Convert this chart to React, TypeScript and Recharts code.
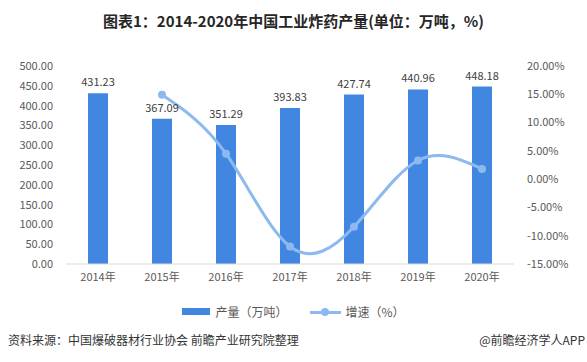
import React from "react";
import { ComposedChart, Bar, Line, XAxis, YAxis, LabelList } from "recharts";

const years = ["2014年", "2015年", "2016年", "2017年", "2018年", "2019年", "2020年"];
const output = [431.23, 367.09, 351.29, 393.83, 427.74, 440.96, 448.18];
const growth = [null, 14.9, 4.5, -11.9, -8.4, 3.3, 1.8];
const leftTicks = [0, 50, 100, 150, 200, 250, 300, 350, 400, 450, 500];
const rightTicks = [-15, -10, -5, 0, 5, 10, 15, 20];

const BAR = "#4187E1";
const LINE = "#8DB8F0";
const FONT = "'Microsoft YaHei','Noto Sans CJK SC',sans-serif";

const data = years.map((y, i) => ({ year: y, output: output[i], growth: growth[i] }));

const tick = { fontSize: 11, fill: "#595959", fontFamily: FONT };

export default function App() {
  return (
    <div style={{ position: "relative", width: 587, height: 362, background: "#fff", fontFamily: FONT }}>
      <style>{`body{margin:0}`}</style>
      <div
        style={{
          position: "absolute",
          top: 10,
          left: 0,
          width: 587,
          textAlign: "center",
          fontSize: 15,
          fontWeight: 700,
          color: "#262626",
        }}
      >
        图表1：2014-2020年中国工业炸药产量(单位：万吨，%)
      </div>
      <ComposedChart
        width={587}
        height={362}
        data={data}
        margin={{ top: 66, right: 0, bottom: 68, left: 0 }}
        barCategoryGap={22}
      >
        <XAxis
          dataKey="year"
          tick={tick}
          tickSize={0}
          tickMargin={9}
          axisLine={{ stroke: "#d9d9d9" }}
          tickLine={false}
          height={30}
        />
        <YAxis
          yAxisId="left"
          domain={[0, 500]}
          ticks={leftTicks}
          tickFormatter={(v: number) => v.toFixed(2)}
          tick={tick}
          tickSize={0}
          tickMargin={13}
          axisLine={false}
          tickLine={false}
          width={66}
          interval={0}
        />
        <YAxis
          yAxisId="right"
          orientation="right"
          domain={[-15, 20]}
          ticks={rightTicks}
          tickFormatter={(v: number) => v.toFixed(2) + "%"}
          tick={{ ...tick, textAnchor: "start" }}
          tickSize={0}
          tickMargin={13}
          axisLine={false}
          tickLine={false}
          width={73}
          interval={0}
        />
        <Bar yAxisId="left" dataKey="output" fill={BAR} barSize={20} isAnimationActive={false}>
          <LabelList
            dataKey="output"
            position="top"
            offset={7}
            formatter={(v: number) => v.toFixed(2)}
            style={{ fontSize: 11, fill: "#404040", fontFamily: FONT }}
          />
        </Bar>
        <Line
          yAxisId="right"
          dataKey="growth"
          type="natural"
          stroke={LINE}
          strokeWidth={3}
          dot={{ r: 4, fill: LINE, stroke: LINE, strokeWidth: 0 }}
          isAnimationActive={false}
        />
      </ComposedChart>
      <div
        style={{
          position: "absolute",
          top: 303,
          left: 0,
          width: 587,
          display: "flex",
          justifyContent: "center",
          alignItems: "center",
          fontSize: 12,
          color: "#595959",
        }}
      >
        <span style={{ display: "inline-block", width: 28, height: 7, background: BAR, marginRight: 5 }} />
        <span style={{ marginRight: 23 }}>产量（万吨）</span>
        <span style={{ position: "relative", display: "inline-block", width: 31, height: 14, marginRight: 4 }}>
          <span style={{ position: "absolute", left: 0, top: 6, width: 31, height: 3, background: LINE }} />
          <span
            style={{ position: "absolute", left: 11, top: 3, width: 8, height: 8, borderRadius: 4, background: LINE }}
          />
        </span>
        <span>增速（%）</span>
      </div>
      <div style={{ position: "absolute", top: 331, left: 8, fontSize: 12, color: "#333" }}>
        资料来源：中国爆破器材行业协会 前瞻产业研究院整理
      </div>
      <div style={{ position: "absolute", top: 331, right: 2, fontSize: 12, color: "#333" }}>@前瞻经济学人APP</div>
    </div>
  );
}
